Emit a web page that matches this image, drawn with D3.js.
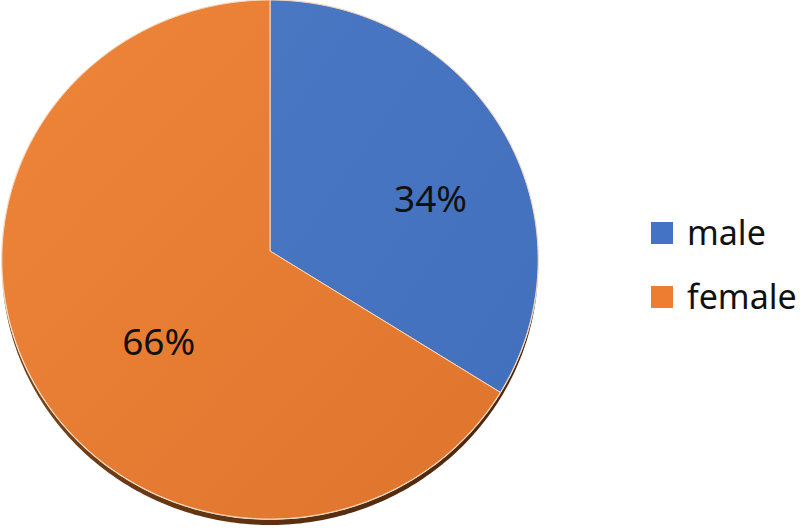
<!DOCTYPE html>
<html>
<head>
<meta charset="utf-8">
<script src="https://cdn.jsdelivr.net/npm/d3@7"></script>
<style>
  html, body { margin: 0; padding: 0; background: #fff; }
  svg { display: block; font-family: "Noto Sans", "Open Sans", sans-serif; }
</style>
</head>
<body>
<svg id="pie" width="800" height="529"></svg>
<script>

var categories = ['male', 'female'];
var values = [34, 66];
var labels = ['34%', '66%'];
var colors = ['#4472c4', '#ed7d31'];

var drawPie = (function(d3) {

  var svg = d3.select('#pie'),
      cx = 270, rx = 268,     // horizontal centre / radius of the top face
      depthY = 251,           // y of the pie centre on screen
      persp = -0.0328,        // slight perspective tilt
      rim = 6,                // thickness of the 3d edge
      defs = svg.append('defs');

  // perspective projection of a point on the unit disc
  function proj(a, r, dy) {
    var x = Math.sin(a) * r, y = -Math.cos(a) * r, w = 1 + persp * y;
    return [cx + rx * x / w, depthY * (y + 1) / w + (dy || 0)];
  }

  function ring(a0, a1, dy) {
    var n = Math.max(8, Math.ceil((a1 - a0) * 60)),
        t = d3.scaleLinear().domain([0, n]).range([a0, a1]);
    return d3.range(n + 1).map(function(i) { return proj(t(i), 1, dy); });
  }

  var line = d3.line();

  // gradients for the faces
  var shades = [['#4a77c2', '#4270bd'], ['#ee8539', '#df752d']];
  shades.forEach(function(s, i) {
    var g = defs.append('linearGradient').attr('id', 'g' + i)
      .attr('x1', 0).attr('y1', 0).attr('x2', 1).attr('y2', 1);
    g.append('stop').attr('offset', 0).attr('stop-color', s[0]);
    g.append('stop').attr('offset', 1).attr('stop-color', s[1]);
  });
  var rg = defs.append('linearGradient').attr('id', 'rim')
    .attr('x1', 0).attr('y1', 0).attr('x2', 1).attr('y2', 0);
  rg.append('stop').attr('offset', 0).attr('stop-color', '#7a4418');
  rg.append('stop').attr('offset', 0.5).attr('stop-color', '#5c3010');
  rg.append('stop').attr('offset', 1).attr('stop-color', '#4a260c');

  function generateChart() {

    var arcs = d3.pie().sort(null).value(function(d) { return d; })(values);

    // 3d edge under the face
    svg.append('path')
      .attr('d', line(ring(0, 2 * Math.PI, rim)) + 'Z')
      .attr('fill', 'url(#rim)');

    svg.append('path')
      .attr('d', line(ring(0, 2 * Math.PI, 0)) + 'Z')
      .attr('fill', '#f3e6da')
      .attr('stroke', '#f6ede4')
      .attr('stroke-width', 1.6);

    svg.selectAll('path.slice')
        .data(arcs)
      .enter().append('path')
        .classed('slice', true)
        .attr('d', function(d) {
          return line([proj(0, 0)].concat(ring(d.startAngle, d.endAngle, 0))) + 'Z';
        })
        .attr('fill', function(d, i) { return 'url(#g' + i + ')'; })
        .attr('stroke', '#f7d8bd')
        .attr('stroke-width', 1)
        .attr('stroke-linejoin', 'round');

    // data labels (Excel nudges them off the mid angle)
    var nudge = [[21, 35], [31, 28]];
    svg.selectAll('text.lab')
        .data(arcs)
      .enter().append('text')
        .classed('lab', true)
        .attr('x', function(d, i) { return proj((d.startAngle + d.endAngle) / 2, 0.6)[0] + nudge[i][0]; })
        .attr('y', function(d, i) { return proj((d.startAngle + d.endAngle) / 2, 0.6)[1] + nudge[i][1]; })
        .attr('text-anchor', 'middle')
        .attr('font-size', 37)
        .attr('fill', '#111')
        .text(function(d, i) { return labels[i]; });

    // legend
    var ly = d3.scalePoint().domain(categories).range([232, 296]);
    var leg = svg.selectAll('g.leg')
        .data(categories)
      .enter().append('g')
        .classed('leg', true)
        .attr('transform', function(d) { return 'translate(651,' + ly(d) + ')'; });
    leg.append('rect')
      .attr('x', 0).attr('y', -10).attr('width', 22).attr('height', 22)
      .attr('fill', function(d, i) { return colors[i]; });
    leg.append('text')
      .attr('x', 36).attr('y', 13)
      .attr('font-size', 34)
      .attr('fill', '#111')
      .text(function(d) { return d; });
  }

  return generateChart;

})(d3);

drawPie();
</script>
</body>
</html>
